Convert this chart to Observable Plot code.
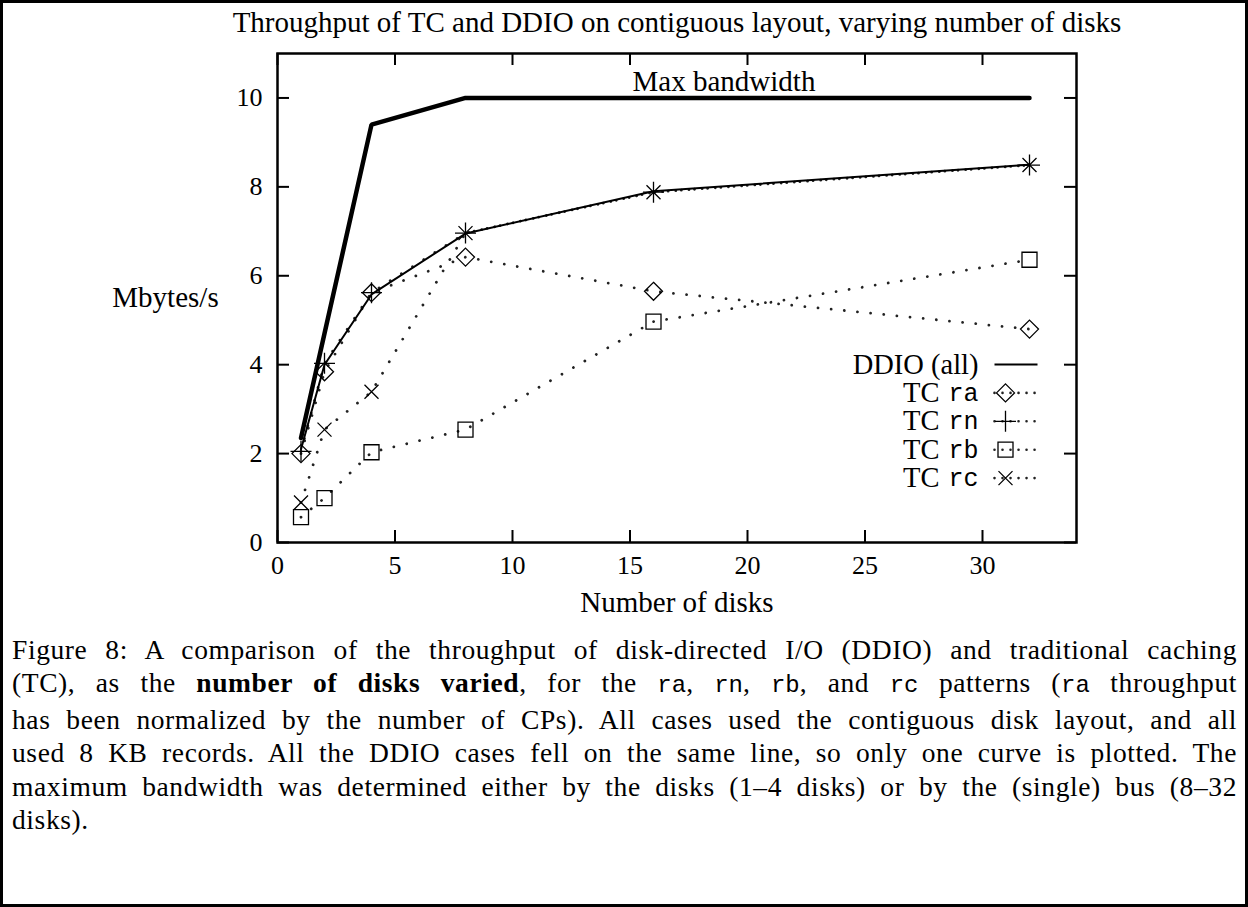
<!DOCTYPE html>
<html>
<head>
<meta charset="utf-8">
<script src="https://cdn.jsdelivr.net/npm/d3@7"></script>
<script src="https://cdn.jsdelivr.net/npm/@observablehq/plot@0.6"></script>
<style>
  html, body { margin: 0; padding: 0; background: #fff; }
  #fig { position: relative; width: 1248px; height: 907px; overflow: hidden; background: #fff; }
  #chart { position: absolute; left: 0; top: 0; }
  #border { position: absolute; left: 0; top: 0; right: 0; bottom: 0; border: 3px solid #000; box-sizing: border-box; pointer-events: none; }
  #caption { position: absolute; left: 12px; top: 633px; width: 1225px; font-family: "Liberation Serif", serif; font-size: 27.5px; line-height: 33.4px; letter-spacing: 0.6px; color: #000; }
  #caption div { text-align: justify; text-align-last: justify; white-space: nowrap; }
  #caption div.last { text-align: left; text-align-last: left; }
  #caption tt { font-family: "Liberation Mono", monospace; font-size: 24px; letter-spacing: 0; }
</style>
</head>
<body>
<div id="fig">
  <div id="chart"></div>
  <div id="caption">
    <div>Figure 8: A comparison of the throughput of disk-directed I/O (DDIO) and traditional caching</div>
    <div>(TC), as the <b>number of disks varied</b>, for the <tt>ra</tt>, <tt>rn</tt>, <tt>rb</tt>, and <tt>rc</tt> patterns (<tt>ra</tt> throughput</div>
    <div>has been normalized by the number of CPs). All cases used the contiguous disk layout, and all</div>
    <div>used 8 KB records. All the DDIO cases fell on the same line, so only one curve is plotted. The</div>
    <div>maximum bandwidth was determined either by the disks (1–4 disks) or by the (single) bus (8–32</div>
    <div class="last">disks).</div>
  </div>
  <div id="border"></div>
</div>
<script>
// ---- data ----
const disks = [1, 2, 4, 8, 16, 32];
const maxBandwidth = [2.35, 4.7, 9.4, 10, 10, 10];
const ddioAll = [2.1, 4.0, 5.58, 6.95, 7.9, 8.5];
const tcRa = [2.0, 3.84, 5.62, 6.42, 5.65, 4.8];
const tcRn = [2.05, 4.03, 5.62, 6.96, 7.88, 8.49];
const tcRb = [0.57, 1.0, 2.03, 2.54, 4.97, 6.36];
const tcRc = [0.9, 2.54, 3.39, 6.96, 7.88, 8.49];
const xTicks = [0, 5, 10, 15, 20, 25, 30];
const yTicks = [0, 2, 4, 6, 8, 10];
const titleText = "Throughput of TC and DDIO on contiguous layout, varying number of disks";
const xLabel = "Number of disks";
const yLabel = "Mbytes/s";
const maxLabel = [{x: 19, y: 10, text: "Max bandwidth"}];
const legendItems = [
  {pre: "DDIO (all)", code: "", kind: "solid"},
  {pre: "TC", code: "ra", kind: "diamond"},
  {pre: "TC", code: "rn", kind: "plus"},
  {pre: "TC", code: "rb", kind: "square"},
  {pre: "TC", code: "rc", kind: "times"}
];

// ---- tables ----
const toRows = (vals) => disks.map((d, i) => ({x: d, y: vals[i]}));
const rowsMax = toRows(maxBandwidth);
const rowsDdio = toRows(ddioAll);
const rowsRa = toRows(tcRa);
const rowsRn = toRows(tcRn);
const rowsRb = toRows(tcRb);
const rowsRc = toRows(tcRc);

// ---- custom marker symbols ----
const sym = {
  diamond: {draw(c) { const h = 9; c.moveTo(0, -h); c.lineTo(h, 0); c.lineTo(0, h); c.lineTo(-h, 0); c.closePath(); }},
  plus: {draw(c) { const h = 10.5; c.moveTo(-h, 0); c.lineTo(h, 0); c.moveTo(0, -h); c.lineTo(0, h); }},
  square: {draw(c) { const h = 7.5; c.moveTo(-h, -h); c.lineTo(h, -h); c.lineTo(h, h); c.lineTo(-h, h); c.closePath(); }},
  times: {draw(c) { const h = 7; c.moveTo(-h, -h); c.lineTo(h, h); c.moveTo(-h, h); c.lineTo(h, -h); }},
  sampleLine: {draw(c) { c.moveTo(-11, 0); c.lineTo(32, 0); }}
};

const FONT = "'Liberation Serif', serif";
const FS = 29;
const dotted = {stroke: "#222", strokeWidth: 2.8, strokeDasharray: "0.01,13.2", strokeLinecap: "round", curve: "linear"};
const mk = {fill: "none", stroke: "#000", strokeWidth: 1.3};

const series = [
  {rows: rowsRa, s: sym.diamond},
  {rows: rowsRn, s: sym.plus},
  {rows: rowsRb, s: sym.square},
  {rows: rowsRc, s: sym.times}
];

const marks = [];
// frame ticks (inward, mirrored)
marks.push(Plot.ruleX(xTicks, {x: d => d, insetTop: 477, stroke: "#000", strokeWidth: 2}));
marks.push(Plot.ruleX(xTicks, {x: d => d, insetBottom: 477, stroke: "#000", strokeWidth: 2}));
marks.push(Plot.ruleY(yTicks, {y: d => d, insetRight: 787, stroke: "#000", strokeWidth: 2}));
marks.push(Plot.ruleY(yTicks, {y: d => d, insetLeft: 787, stroke: "#000", strokeWidth: 2}));
marks.push(Plot.axisX(xTicks, {tickSize: 0, tickPadding: 13, fontSize: 26, fontFamily: FONT, label: null}));
marks.push(Plot.axisY(yTicks, {tickSize: 0, tickPadding: 15, fontSize: 26, fontFamily: FONT, label: null}));

// data lines
for (const se of series) marks.push(Plot.line(se.rows, {x: "x", y: "y", ...dotted}));
marks.push(Plot.line(rowsDdio, {x: "x", y: "y", stroke: "#000", strokeWidth: 2}));
marks.push(Plot.line(rowsMax, {x: "x", y: "y", stroke: "#000", strokeWidth: 4.5, strokeLinejoin: "miter"}));
for (const se of series) marks.push(Plot.dot(se.rows, {x: "x", y: "y", symbol: se.s, ...mk}));

// frame
marks.push(Plot.frame({stroke: "#000", strokeWidth: 2.5}));

// texts
marks.push(Plot.text([titleText], {text: d => d, frameAnchor: "top", lineAnchor: "middle", dy: -31, fontSize: FS, fontFamily: FONT}));
marks.push(Plot.text([xLabel], {text: d => d, frameAnchor: "bottom", lineAnchor: "middle", dy: 60, fontSize: FS, fontFamily: FONT}));
marks.push(Plot.text([yLabel], {text: d => d, frameAnchor: "left", lineAnchor: "middle", textAnchor: "middle", dx: -112, fontSize: FS, fontFamily: FONT}));
marks.push(Plot.text(maxLabel, {x: "x", y: "y", text: "text", lineAnchor: "middle", dy: -16, fontSize: FS, fontFamily: FONT}));

// legend
legendItems.forEach((it, i) => {
  const dy = 311 + i * 28.4;
  if (it.code) {
    marks.push(Plot.text([it.code], {text: d => d, frameAnchor: "top-right", lineAnchor: "middle", dx: -98, dy, textAnchor: "end", fontSize: 25, fontFamily: "'Liberation Mono', monospace"}));
    marks.push(Plot.text([it.pre], {text: d => d, frameAnchor: "top-right", lineAnchor: "middle", dx: -137, dy, textAnchor: "end", fontSize: 28.5, fontFamily: FONT}));
    marks.push(Plot.dot([0], {frameAnchor: "top-right", dx: -71, dy, symbol: sym.sampleLine, fill: "none", stroke: "#222", strokeWidth: 2.6, strokeDasharray: "0.01,8", strokeLinecap: "round"}));
    marks.push(Plot.dot([0], {frameAnchor: "top-right", dx: -71, dy, symbol: sym[it.kind], ...mk}));
  } else {
    marks.push(Plot.text([it.pre], {text: d => d, frameAnchor: "top-right", lineAnchor: "middle", dx: -98, dy, textAnchor: "end", fontSize: 28.5, fontFamily: FONT}));
    marks.push(Plot.dot([0], {frameAnchor: "top-right", dx: -71, dy, symbol: sym.sampleLine, fill: "none", stroke: "#000", strokeWidth: 2}));
  }
});

const chart = Plot.plot({
  width: 1248,
  height: 620,
  marginLeft: 277,
  marginRight: 172,
  marginTop: 53,
  marginBottom: 78,
  style: {fontFamily: FONT, fontSize: "24px", color: "#000", background: "transparent"},
  x: {domain: [0, 34], label: null},
  y: {domain: [0, 11], label: null},
  marks
});
document.getElementById("chart").appendChild(chart);
</script>
</body>
</html>
